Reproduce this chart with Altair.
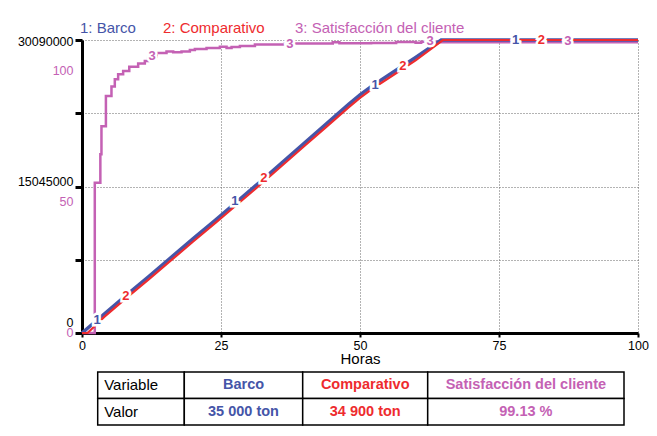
import altair as alt
import pandas as pd

FONT = "Liberation Sans"
AZUL = "#4555A8"
ROJO = "#EE2B2E"
MAGENTA = "#C461B4"

# ---- Serie 1: Barco (horas, ton) ----
barco_h = [0, 4, 8, 12, 16, 20, 24, 28, 32, 36, 40, 44, 48, 50, 52, 56, 60, 64.6, 100]
barco_v = [0, 1950000, 3900000, 5800000, 7750000, 9700000, 11600000, 13550000, 15500000,
           17500000, 19500000, 21500000, 23500000, 24450000, 25300000, 26800000, 28300000,
           30090000, 30090000]

# ---- Serie 2: Comparativo ----
comp_h = [0, 1, 4, 8, 12, 16, 20, 24, 28, 32, 36, 40, 44, 48, 50, 52, 56, 60, 64.9, 100]
comp_v = [0, 0, 1650000, 3600000, 5500000, 7450000, 9400000, 11300000, 13250000, 15200000,
          17200000, 19200000, 21200000, 23200000, 24150000, 25000000, 26500000, 28000000,
          30090000, 30090000]

# ---- Serie 3: Satisfacción del cliente (%) ----
sat_h = [0, 2.3, 3.3, 3.5, 4.3, 5.3, 5.9, 6.5, 7.4, 8.5, 10.1, 11.3, 11.9, 13.4, 15.2, 16.4,
         17.9, 19.4, 20.3, 22.4, 24.8, 26.0, 26.9, 28.4, 31.1, 36.5, 45.1, 46.3, 52.0, 56.5,
         60.0, 61.0, 64.0, 100]
sat_v = [0, 51.3, 61.0, 70.6, 80.9, 84.1, 86.6, 88.3, 89.4, 90.9, 92.0, 92.8, 94.3, 95.6, 96.1,
         95.8, 96.1, 96.6, 96.9, 97.3, 97.7, 97.3, 97.6, 97.95, 98.5, 98.8, 99.2, 98.9, 99.0,
         99.3, 99.1, 99.4, 99.2, 99.2]

# ---- Marcadores de las curvas ----
m1_h = [2.7, 27.5, 52.7, 78]
m1_v = [1330000, 13560000, 25470000, 30090000]
m2_h = [7.9, 32.7, 57.7, 82.6]
m2_v = [3800000, 15900000, 27400000, 30090000]
m3_h = [12.6, 37.4, 62.6, 87.4]
m3_v = [94.5, 98.5, 99.6, 99.6]

leyenda = ["1: Barco", "2: Comparativo", "3: Satisfacción del cliente"]
colores = [AZUL, ROJO, MAGENTA]

x_ticks = [0, 25, 50, 75, 100]
y_max = 30090000
y_ticks = [0, 7522500, 15045000, 22567500, 30090000]
sat_ticks = [0, 50, 100]

# ---- Tabla ----
tabla_cab = ["Variable", "Barco", "Comparativo", "Satisfacción del cliente"]
tabla_val = ["Valor", "35 000 ton", "34 900 ton", "99.13 %"]
tabla_col = ["black", AZUL, ROJO, MAGENTA]

W, H = 556, 293

x_enc = alt.X("h:Q", scale=alt.Scale(domain=[0, 100], nice=False),
              axis=alt.Axis(values=x_ticks, title="Horas", grid=True, gridDash=[1, 2],
                            gridColor="#666", domainColor="black", domainWidth=3,
                            tickColor="black", tickWidth=2, tickSize=4, labelPadding=2,
                            labelFontSize=12.5, labelColor="black", labelFont=FONT,
                            titleFont=FONT, titleFontSize=15, titleFontWeight="normal",
                            titlePadding=0, titleColor="black", labelFlush=False))

y_scale = alt.Scale(domain=[0, y_max], nice=False, zero=True)
s_scale = alt.Scale(domain=[0, 100], nice=False)

black_axis = alt.Axis(values=y_ticks, orient="left", title=None, format="d",
                      labelExpr="datum.value % 15045000 == 0 ? datum.label : ''",
                      grid=True, gridDash=[1, 2], gridColor="#666",
                      domainColor="black", domainWidth=3, tickColor="black", tickWidth=3,
                      tickSize=7, labelPadding=2, labelFontSize=12.5, labelColor="black",
                      labelFont=FONT,
                      labelOffset={"condition": [
                          {"test": "datum.value == 30090000", "value": 1},
                          {"test": "datum.value == 15045000", "value": -5}],
                          "value": -11})
mag_axis = alt.Axis(values=sat_ticks, orient="left", title=None, grid=False, domain=False,
                    tickOpacity=0, tickSize=7, labelPadding=2, labelFontSize=12.5,
                    labelColor=MAGENTA, labelFont=FONT,
                    labelOffset={"condition": [
                        {"test": "datum.value == 100", "value": 30},
                        {"test": "datum.value == 50", "value": 15}],
                        "value": -1})


def df(h, v):
    return pd.DataFrame({"h": h, "v": v})


sat_line = alt.Chart(df(sat_h, sat_v)).mark_line(
    color=MAGENTA, strokeWidth=2.5, interpolate="step-after").encode(
    x=x_enc, y=alt.Y("v:Q", scale=s_scale, axis=mag_axis))
barco_line = alt.Chart(df(barco_h, barco_v)).mark_line(
    color=AZUL, strokeWidth=3.5).encode(
    x=x_enc, y=alt.Y("v:Q", scale=y_scale, axis=black_axis))
comp_line = alt.Chart(df(comp_h, comp_v)).mark_line(
    color=ROJO, strokeWidth=2.2).encode(
    x=x_enc, y=alt.Y("v:Q", scale=y_scale, axis=None))


def marcador(h, v, num, color, scale, halo):
    d = pd.DataFrame({"h": h, "v": v, "t": [num] * len(h)})
    if halo:
        m = alt.Chart(d).mark_text(color="white", stroke="white", strokeWidth=5,
                                   fontWeight="bold", fontSize=13, font=FONT)
    else:
        m = alt.Chart(d).mark_text(color=color, fontWeight="bold", fontSize=13, font=FONT)
    return m.encode(x=x_enc, y=alt.Y("v:Q", scale=scale, axis=None), text="t:N")


leg_x = [-2, 81, 213]
leg_layers = []
for i in range(3):
    leg_layers.append(
        alt.Chart(pd.DataFrame({"t": [leyenda[i]]})).mark_text(
            color=colores[i], fontSize=15, font=FONT, align="left", baseline="middle"
        ).encode(text="t:N", x=alt.value(leg_x[i]), y=alt.value(-12)))

main = alt.layer(
    sat_line, barco_line, comp_line,
    marcador(m3_h, m3_v, "3", MAGENTA, s_scale, True),
    marcador(m1_h, m1_v, "1", AZUL, y_scale, True),
    marcador(m2_h, m2_v, "2", ROJO, y_scale, True),
    marcador(m3_h, m3_v, "3", MAGENTA, s_scale, False),
    marcador(m1_h, m1_v, "1", AZUL, y_scale, False),
    marcador(m2_h, m2_v, "2", ROJO, y_scale, False),
    *leg_layers,
).resolve_scale(y="independent").properties(width=W, height=H)

# ---- construcción de la tabla ----
col_edges = [15.7, 102.3, 220.7, 345.7, 542]
rows = []
for r, textos in enumerate([tabla_cab, tabla_val]):
    for c, t in enumerate(textos):
        x0, x1 = col_edges[c], col_edges[c + 1]
        rows.append({"x0": x0, "x1": x1, "xc": (x0 + x1) / 2, "xl": x0 + 6.5,
                     "y0": r, "y1": r + 1, "ym": r + 0.5, "t": t,
                     "col": tabla_col[c], "c": c})
tdf = pd.DataFrame(rows)
tx = alt.Scale(domain=[0, W], nice=False, zero=True)
ty = alt.Scale(domain=[0, 2], reverse=True, nice=False)

cells = alt.Chart(tdf).mark_rect(fill="white", stroke="black", strokeWidth=1.5).encode(
    x=alt.X("x0:Q", scale=tx, axis=None), x2="x1:Q",
    y=alt.Y("y0:Q", scale=ty, axis=None), y2="y1:Q")
txt_first = alt.Chart(tdf).transform_filter("datum.c == 0").mark_text(
    align="left", baseline="middle", fontSize=15, font=FONT, color="black").encode(
    x=alt.X("xl:Q", scale=tx, axis=None), y=alt.Y("ym:Q", scale=ty, axis=None), text="t:N")
txt_rest = alt.Chart(tdf).transform_filter("datum.c > 0").mark_text(
    align="center", baseline="middle", fontSize=14.5, font=FONT, fontWeight="bold").encode(
    x=alt.X("xc:Q", scale=tx, axis=None), y=alt.Y("ym:Q", scale=ty, axis=None), text="t:N",
    color=alt.Color("col:N", scale=None))
table = alt.layer(cells, txt_first, txt_rest).properties(width=W, height=53)

chart = alt.vconcat(main, table, spacing=4).configure(
    padding={"left": 9, "top": 13, "right": 0, "bottom": 0}
).configure_view(strokeWidth=0)

chart.save("out.html", embed_options={"renderer": "svg", "actions": False})
